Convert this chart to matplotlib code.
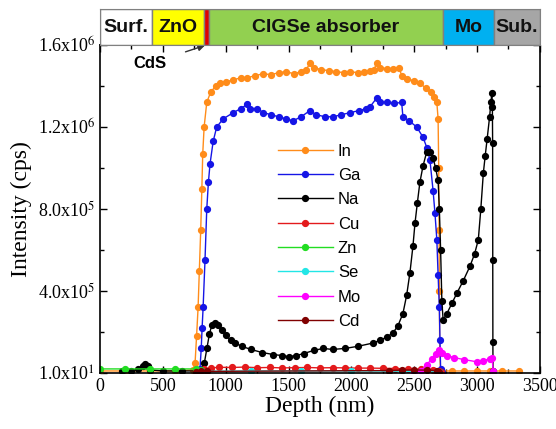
import matplotlib
matplotlib.use("Agg")
import matplotlib.pyplot as plt
from matplotlib.patches import Rectangle
from matplotlib.ticker import MultipleLocator, FixedLocator

plt.rcParams['font.family'] = 'Liberation Serif'
plt.rcParams['mathtext.fontset'] = 'stix'

# depth (nm) and intensity (x1e6 cps)
in_x = [0, 200, 400, 600, 740, 756, 768, 780, 790, 801, 810, 817, 828, 849, 880, 920, 955,
        1000, 1060, 1120, 1170, 1230, 1300, 1360, 1420, 1480, 1540, 1600, 1640, 1670, 1700,
        1760, 1820, 1880, 1940, 1990, 2050, 2100, 2150, 2180, 2200, 2230, 2280, 2330, 2380,
        2400, 2440, 2500, 2545, 2590, 2630, 2660, 2680, 2690, 2695, 2698, 2700, 2703, 2710,
        2800, 2900, 3000, 3100, 3200, 3330]
in_y = [0.01, 0.01, 0.01, 0.01, 0.015, 0.05, 0.18, 0.32, 0.50, 0.70, 0.90, 1.07, 1.20, 1.32,
        1.37, 1.40, 1.415, 1.42, 1.43, 1.44, 1.44, 1.45, 1.46, 1.455, 1.465, 1.47, 1.46, 1.47,
        1.48, 1.51, 1.49, 1.48, 1.475, 1.47, 1.465, 1.47, 1.465, 1.47, 1.475, 1.48, 1.51, 1.49,
        1.485, 1.485, 1.49, 1.45, 1.435, 1.425, 1.415, 1.39, 1.37, 1.345, 1.32, 1.24, 1.00,
        0.70, 0.40, 0.10, 0.01, 0.01, 0.01, 0.01, 0.01, 0.01, 0.01]

ga_x = [780, 795, 805, 812, 820, 835, 849, 862, 875, 900, 928, 980, 1060, 1120, 1170, 1190,
        1250, 1300, 1360, 1420, 1480, 1535, 1600, 1670, 1720, 1790, 1855, 1920, 1990, 2060,
        2120, 2150, 2200, 2227, 2280, 2340, 2400, 2410, 2460, 2520, 2570, 2600, 2625, 2650,
        2665, 2680, 2690, 2700, 2705, 2710, 2720]
ga_y = [0.005, 0.02, 0.12, 0.22, 0.32, 0.55, 0.80, 0.93, 1.02, 1.13, 1.20, 1.24, 1.27, 1.29,
        1.31, 1.29, 1.29, 1.27, 1.26, 1.25, 1.24, 1.23, 1.25, 1.28, 1.26, 1.25, 1.25, 1.26,
        1.27, 1.28, 1.29, 1.30, 1.34, 1.32, 1.32, 1.315, 1.32, 1.25, 1.23, 1.20, 1.15, 1.10,
        1.04, 0.89, 0.78, 0.65, 0.48, 0.32, 0.16, 0.02, 0.005]

na_x = [175, 250, 300, 340, 358, 380, 400, 500, 650, 800, 830, 850, 870, 890, 915, 940, 970,
        1000, 1040, 1075, 1130, 1200, 1290, 1380, 1450, 1500, 1560, 1620, 1700, 1775, 1850,
        1950, 2050, 2170, 2230, 2280, 2330, 2370, 2410, 2440, 2466, 2490, 2506, 2525, 2545,
        2570, 2600, 2625, 2650, 2670, 2690, 2700, 2710, 2720, 2730, 2760, 2800, 2840, 2890,
        2943, 2980, 3010, 3030, 3050, 3065, 3080, 3100, 3110, 3118, 3122, 3124, 3125, 3126, 3127]
na_y = [0.01, 0.012, 0.018, 0.035, 0.044, 0.035, 0.015, 0.01, 0.01, 0.01, 0.05, 0.12, 0.19,
        0.235, 0.245, 0.235, 0.21, 0.185, 0.16, 0.146, 0.13, 0.115, 0.10, 0.09, 0.085, 0.08,
        0.085, 0.095, 0.11, 0.12, 0.115, 0.12, 0.13, 0.146, 0.16, 0.175, 0.195, 0.23, 0.29,
        0.38, 0.49, 0.62, 0.73, 0.83, 0.93, 1.01, 1.08, 1.08, 1.05, 1.00, 0.94, 0.80, 0.60,
        0.35, 0.26, 0.29, 0.34, 0.39, 0.45, 0.52, 0.58, 0.65, 0.80, 0.975, 1.06, 1.14, 1.25,
        1.32, 1.365, 1.30, 1.12, 0.55, 0.15, 0.01]

cu_x = [800, 830, 880, 950, 1050, 1150, 1250, 1350, 1450, 1550, 1650, 1750, 1850, 1950, 2050,
        2150, 2250, 2350, 2450, 2550, 2650, 2700, 2710]
cu_y = [0.005, 0.02, 0.025, 0.028, 0.027, 0.029, 0.026, 0.027, 0.025, 0.026, 0.027, 0.025,
        0.026, 0.025, 0.024, 0.024, 0.023, 0.022, 0.02, 0.018, 0.015, 0.012, 0.005]

zn_x = [0, 200, 400, 600, 760, 800, 830]
zn_y = [0.02, 0.02, 0.02, 0.02, 0.02, 0.015, 0.005]

se_x = [800, 1200, 1600, 2000, 2400, 2700]
se_y = [0.008, 0.01, 0.01, 0.01, 0.009, 0.005]

mo_x = [2500, 2550, 2600, 2640, 2670, 2700, 2720, 2760, 2820, 2900, 2997, 3050, 3100, 3120, 3128]
mo_y = [0.005, 0.01, 0.04, 0.07, 0.095, 0.11, 0.10, 0.085, 0.075, 0.065, 0.055, 0.06, 0.07,
        0.075, 0.01]

cd_x = [760, 800, 850, 2300, 2400, 2500, 2600, 2680, 2700]
cd_y = [0.005, 0.012, 0.008, 0.012, 0.014, 0.015, 0.014, 0.012, 0.005]

# layer banner
layer_names = ['Surf.', 'ZnO', '', 'CIGSe absorber', 'Mo', 'Sub.']
layer_edges = [0, 411, 827, 867, 2729, 3134, 3500]
layer_colors = ['white', '#ffff00', '#e00000', '#92d050', '#00b0f0', '#a6a6a6']

yticks = [10, 4e5, 8e5, 1.2e6, 1.6e6]
ytick_labels = ['1.0x10$^{1}$', '4.0x10$^{5}$', '8.0x10$^{5}$', '1.2x10$^{6}$', '1.6x10$^{6}$']

fig = plt.figure(figsize=(5.56, 4.29), dpi=100)
ax = fig.add_axes([0.18, 0.1305, 0.791, 0.7646])

series = [('In', in_x, in_y, '#ff8c1a'),
          ('Ga', ga_x, ga_y, '#1515e6'),
          ('Na', na_x, na_y, 'black'),
          ('Cu', cu_x, cu_y, '#e31a1c'),
          ('Zn', zn_x, zn_y, '#22dd22'),
          ('Se', se_x, se_y, '#22e6e6'),
          ('Mo', mo_x, mo_y, '#ff00ff'),
          ('Cd', cd_x, cd_y, '#800000')]
for name, xs, ys, c in series:
    ax.plot(xs, [v * 1e6 for v in ys], '-o', color=c, lw=1.0, ms=4.2, label=name)

ax.set_xlim(0, 3500)
ax.set_ylim(10, 1.6e6)
ax.xaxis.set_major_locator(MultipleLocator(500))
ax.xaxis.set_minor_locator(MultipleLocator(250))
ax.yaxis.set_major_locator(FixedLocator(yticks))
ax.set_yticklabels(ytick_labels)
ax.yaxis.set_minor_locator(FixedLocator([2e5, 6e5, 1e6, 1.4e6]))
ax.tick_params(which='both', direction='in', top=True, right=True, labelsize=13, width=1)
ax.tick_params(which='major', length=5)
ax.tick_params(which='minor', length=3)
for s in ax.spines.values():
    s.set_linewidth(1.2)
ax.set_xlabel('Depth (nm)', fontsize=17, labelpad=1)
ax.set_ylabel('Intensity (cps)', fontsize=17, labelpad=4)

leg = ax.legend(loc='upper left', bbox_to_anchor=(0.37, 0.745), frameon=False,
                prop={'family': 'Liberation Sans', 'size': 12}, handlelength=3.3,
                labelspacing=0.56, handletextpad=0.3)

ax.annotate('CdS', xy=(835, 1.598e6), xytext=(400, 1.51e6), ha='center', va='center',
            fontsize=12, fontweight='bold', family='Liberation Sans', annotation_clip=False,
            arrowprops=dict(arrowstyle='-|>', color='#333333', lw=1, shrinkA=12, shrinkB=0,
                            mutation_scale=10))

bx = fig.add_axes([0.18, 0.8951, 0.791, 0.0839])
bx.set_xlim(0, 3500)
bx.set_ylim(0, 1)
for i in range(len(layer_names)):
    x0, x1 = layer_edges[i], layer_edges[i + 1]
    bx.add_patch(Rectangle((x0, 0), x1 - x0, 1, facecolor=layer_colors[i],
                           edgecolor='#808080', lw=1))
    if layer_names[i]:
        bx.text((x0 + x1) / 2, 0.48, layer_names[i], ha='center', va='center',
                fontsize=14, fontweight='bold', family='Liberation Sans', color='#111111')
bx.set_xticks([])
bx.set_yticks([])
for s in bx.spines.values():
    s.set_color('#808080')

fig.savefig('out.png', dpi=100)
